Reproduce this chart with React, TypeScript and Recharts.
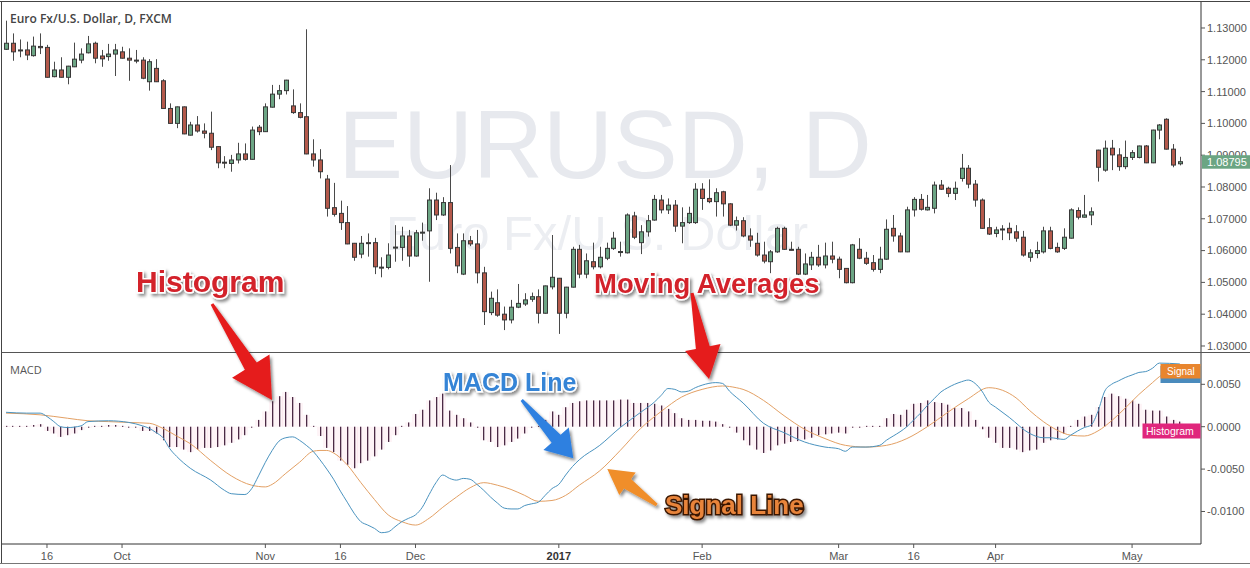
import React from 'react';
import { ComposedChart, Bar, Line, XAxis, YAxis } from 'recharts';

// ---------- DATA (EUR/USD daily, FXCM) ----------
const opens = [
  1.1233, 1.1252, 1.1230, 1.1231, 1.1213, 1.1242, 1.1239, 1.1147, 1.1168, 1.1145,
  1.1178, 1.1199, 1.1222, 1.1252, 1.1212, 1.1210, 1.1218, 1.1225, 1.1205, 1.1198,
  1.1199, 1.1131, 1.1173, 1.1134, 1.1047, 1.1000, 1.1052, 1.0963, 1.0995, 1.0976,
  1.0969, 1.0927, 1.0878, 1.0874, 1.0885, 1.0904, 1.0887, 1.0988, 1.0974, 1.1051,
  1.1092, 1.1103, 1.1055, 1.1034, 1.1021, 1.0904, 1.0885, 1.0825, 1.0735, 1.0717,
  1.0688, 1.0623, 1.0589, 1.0625, 1.0625, 1.0547, 1.0547, 1.0610, 1.0610, 1.0646,
  1.0583, 1.0657, 1.0662, 1.0759, 1.0712, 1.0751, 1.0610, 1.0526, 1.0631, 1.0621,
  1.0530, 1.0405, 1.0436, 1.0400, 1.0382, 1.0422, 1.0432, 1.0447, 1.0455, 1.0403,
  1.0486, 1.0513, 1.0403, 1.0485, 1.0604, 1.0526, 1.0565, 1.0549, 1.0576, 1.0607,
  1.0596, 1.0593, 1.0709, 1.0625, 1.0659, 1.0696, 1.0759, 1.0728, 1.0743, 1.0677,
  1.0688, 1.0688, 1.0793, 1.0764, 1.0754, 1.0785, 1.0747, 1.0680, 1.0694, 1.0646,
  1.0623, 1.0586, 1.0565, 1.0596, 1.0670, 1.0604, 1.0604, 1.0526, 1.0555, 1.0579,
  1.0555, 1.0583, 1.0573, 1.0544, 1.0499, 1.0604, 1.0576, 1.0562, 1.0541, 1.0573,
  1.0670, 1.0646, 1.0596, 1.0728, 1.0761, 1.0728, 1.0733, 1.0806, 1.0796, 1.0780,
  1.0827, 1.0859, 1.0809, 1.0759, 1.0672, 1.0654, 1.0667, 1.0670, 1.0659, 1.0642,
  1.0579, 1.0591, 1.0596, 1.0662, 1.0610, 1.0607, 1.0639, 1.0726, 1.0705, 1.0712,
  1.0916, 1.0853, 1.0922, 1.0901, 1.0864, 1.0893, 1.0893, 1.0929, 1.0876, 1.0979,
  1.1013, 1.0919, 1.0873,
];
const highs = [
  1.1323, 1.1283, 1.1264, 1.1257, 1.1273, 1.1283, 1.1247, 1.1194, 1.1208, 1.1181,
  1.1254, 1.1236, 1.1275, 1.1257, 1.1231, 1.1250, 1.1250, 1.1241, 1.1236, 1.1231,
  1.1208, 1.1202, 1.1202, 1.1139, 1.1063, 1.1053, 1.1053, 1.1005, 1.1023, 1.1000,
  1.1037, 1.0928, 1.0897, 1.0901, 1.0939, 1.0937, 1.0990, 1.0995, 1.1063, 1.1121,
  1.1121, 1.1137, 1.1107, 1.1063, 1.1296, 1.0950, 1.0919, 1.0838, 1.0813, 1.0757,
  1.0740, 1.0624, 1.0646, 1.0654, 1.0640, 1.0579, 1.0623, 1.0680, 1.0675, 1.0665,
  1.0665, 1.0688, 1.0796, 1.0782, 1.0768, 1.0869, 1.0654, 1.0654, 1.0646, 1.0665,
  1.0549, 1.0471, 1.0478, 1.0424, 1.0445, 1.0495, 1.0466, 1.0468, 1.0478, 1.0490,
  1.0649, 1.0514, 1.0486, 1.0612, 1.0618, 1.0591, 1.0625, 1.0612, 1.0625, 1.0659,
  1.0628, 1.0717, 1.0722, 1.0680, 1.0712, 1.0775, 1.0775, 1.0764, 1.0759, 1.0736,
  1.0738, 1.0812, 1.0812, 1.0824, 1.0796, 1.0788, 1.0749, 1.0707, 1.0705, 1.0670,
  1.0656, 1.0628, 1.0602, 1.0675, 1.0675, 1.0628, 1.0612, 1.0591, 1.0596, 1.0618,
  1.0625, 1.0628, 1.0581, 1.0545, 1.0621, 1.0639, 1.0596, 1.0586, 1.0612, 1.0698,
  1.0712, 1.0656, 1.0738, 1.0768, 1.0778, 1.0775, 1.0817, 1.0822, 1.0801, 1.0817,
  1.0904, 1.0869, 1.0822, 1.0764, 1.0702, 1.0675, 1.0680, 1.0688, 1.0680, 1.0662,
  1.0604, 1.0628, 1.0675, 1.0675, 1.0625, 1.0670, 1.0733, 1.0736, 1.0775, 1.0736,
  1.0917, 1.0946, 1.0948, 1.0922, 1.0946, 1.0916, 1.0930, 1.0932, 1.0980, 1.0998,
  1.1016, 1.0935, 1.0895,
];
const lows = [
  1.1231, 1.1197, 1.1208, 1.1199, 1.1210, 1.1218, 1.1144, 1.1145, 1.1144, 1.1123,
  1.1177, 1.1189, 1.1220, 1.1189, 1.1178, 1.1197, 1.1149, 1.1204, 1.1134, 1.1189,
  1.1139, 1.1103, 1.1130, 1.1046, 1.0999, 1.0985, 1.0966, 1.0962, 1.0971, 1.0953,
  1.0916, 1.0859, 1.0859, 1.0848, 1.0874, 1.0883, 1.0886, 1.0963, 1.0973, 1.1050,
  1.1076, 1.1091, 1.1030, 1.1016, 1.0903, 1.0864, 1.0827, 1.0707, 1.0707, 1.0665,
  1.0620, 1.0568, 1.0576, 1.0581, 1.0526, 1.0516, 1.0541, 1.0565, 1.0568, 1.0549,
  1.0581, 1.0631, 1.0502, 1.0696, 1.0709, 1.0591, 1.0529, 1.0523, 1.0614, 1.0497,
  1.0366, 1.0397, 1.0392, 1.0350, 1.0371, 1.0419, 1.0426, 1.0439, 1.0371, 1.0402,
  1.0478, 1.0338, 1.0387, 1.0484, 1.0513, 1.0513, 1.0541, 1.0544, 1.0570, 1.0602,
  1.0581, 1.0591, 1.0636, 1.0589, 1.0644, 1.0694, 1.0717, 1.0715, 1.0659, 1.0623,
  1.0684, 1.0684, 1.0728, 1.0749, 1.0707, 1.0707, 1.0677, 1.0663, 1.0642, 1.0612,
  1.0581, 1.0560, 1.0529, 1.0593, 1.0602, 1.0601, 1.0523, 1.0523, 1.0539, 1.0549,
  1.0544, 1.0560, 1.0513, 1.0497, 1.0497, 1.0573, 1.0555, 1.0534, 1.0529, 1.0571,
  1.0628, 1.0595, 1.0595, 1.0707, 1.0726, 1.0726, 1.0717, 1.0791, 1.0768, 1.0759,
  1.0817, 1.0796, 1.0738, 1.0669, 1.0649, 1.0642, 1.0633, 1.0633, 1.0628, 1.0581,
  1.0565, 1.0576, 1.0591, 1.0604, 1.0593, 1.0602, 1.0638, 1.0698, 1.0704, 1.0680,
  1.0817, 1.0848, 1.0853, 1.0851, 1.0856, 1.0885, 1.0890, 1.0875, 1.0875, 1.0950,
  1.0918, 1.0862, 1.0868,
];
const closes = [
  1.1252, 1.1225, 1.1231, 1.1215, 1.1243, 1.1238, 1.1145, 1.1168, 1.1145, 1.1180,
  1.1202, 1.1218, 1.1250, 1.1205, 1.1203, 1.1218, 1.1231, 1.1205, 1.1199, 1.1199,
  1.1142, 1.1194, 1.1131, 1.1047, 1.1000, 1.1052, 1.0967, 1.0995, 1.0976, 1.0969,
  1.0925, 1.0876, 1.0877, 1.0885, 1.0904, 1.0887, 1.0979, 1.0974, 1.1052, 1.1092,
  1.1103, 1.1136, 1.1034, 1.1019, 1.0904, 1.0885, 1.0848, 1.0733, 1.0714, 1.0688,
  1.0621, 1.0579, 1.0623, 1.0624, 1.0549, 1.0548, 1.0586, 1.0611, 1.0646, 1.0583,
  1.0656, 1.0658, 1.0759, 1.0712, 1.0751, 1.0607, 1.0552, 1.0631, 1.0621, 1.0530,
  1.0408, 1.0450, 1.0397, 1.0382, 1.0422, 1.0434, 1.0445, 1.0455, 1.0403, 1.0489,
  1.0516, 1.0403, 1.0485, 1.0604, 1.0526, 1.0568, 1.0549, 1.0579, 1.0607, 1.0639,
  1.0597, 1.0712, 1.0642, 1.0659, 1.0694, 1.0761, 1.0728, 1.0743, 1.0677, 1.0688,
  1.0717, 1.0793, 1.0764, 1.0754, 1.0782, 1.0747, 1.0680, 1.0694, 1.0646, 1.0633,
  1.0586, 1.0567, 1.0596, 1.0670, 1.0604, 1.0603, 1.0526, 1.0558, 1.0579, 1.0555,
  1.0583, 1.0573, 1.0541, 1.0499, 1.0618, 1.0576, 1.0560, 1.0541, 1.0573, 1.0667,
  1.0646, 1.0596, 1.0728, 1.0761, 1.0730, 1.0736, 1.0806, 1.0793, 1.0780, 1.0796,
  1.0859, 1.0809, 1.0759, 1.0670, 1.0652, 1.0665, 1.0668, 1.0656, 1.0639, 1.0586,
  1.0593, 1.0600, 1.0662, 1.0607, 1.0596, 1.0642, 1.0728, 1.0705, 1.0712, 1.0722,
  1.0862, 1.0922, 1.0901, 1.0864, 1.0893, 1.0908, 1.0929, 1.0876, 1.0979, 1.0995,
  1.0919, 1.0869, 1.08795,
];

const histogram = [
  0.0001, 0.0001, 0.0001, 0.0001, 0.0002, 0.0003, -0.0005, -0.0008, -0.0012, -0.0010,
  -0.0008, -0.0004, 0.0000, 0.0001, 0.0001, 0.0002, 0.0002, 0.0001, 0.0000, -0.0001,
  -0.0005, -0.0005, -0.0008, -0.0016, -0.0024, -0.0024, -0.0027, -0.0030, -0.0027, -0.0025,
  -0.0025, -0.0024, -0.0022, -0.0019, -0.0015, -0.0010, -0.0001, 0.0008, 0.0018, 0.0030,
  0.0036, 0.0041, 0.0035, 0.0028, 0.0014, 0.0001, -0.0011, -0.0025, -0.0030, -0.0040,
  -0.0045, -0.0049, -0.0043, -0.0040, -0.0035, -0.0027, -0.0018, -0.0010, 0.0001, 0.0005,
  0.0015, 0.0020, 0.0031, 0.0035, 0.0039, 0.0019, 0.0014, 0.0010, 0.0005, -0.0001,
  -0.0016, -0.0018, -0.0024, -0.0022, -0.0018, -0.0014, -0.0008, -0.0001, 0.0001, 0.0008,
  0.0018, 0.0014, 0.0023, 0.0028, 0.0030, 0.0031, 0.0031, 0.0031, 0.0031, 0.0031,
  0.0032, 0.0032, 0.0028, 0.0028, 0.0028, 0.0027, 0.0025, 0.0021, 0.0016, 0.0010,
  0.0008, 0.0008, 0.0007, 0.0007, 0.0006, 0.0003, -0.0001, -0.0007, -0.0016, -0.0022,
  -0.0027, -0.0031, -0.0028, -0.0022, -0.0020, -0.0018, -0.0017, -0.0015, -0.0013, -0.0010,
  -0.0009, -0.0008, -0.0007, -0.0008, 0.0000, 0.0000, 0.0001, 0.0001, 0.0001, 0.0010,
  0.0015, 0.0014, 0.0020, 0.0027, 0.0028, 0.0031, 0.0029, 0.0028, 0.0026, 0.0022,
  0.0022, 0.0018, 0.0008, -0.0003, -0.0013, -0.0019, -0.0025, -0.0025, -0.0027, -0.0030,
  -0.0028, -0.0027, -0.0019, -0.0016, -0.0015, -0.0008, 0.0001, 0.0008, 0.0012, 0.0014,
  0.0023, 0.0035, 0.0039, 0.0036, 0.0033, 0.0031, 0.0027, 0.0020, 0.0019, 0.0019,
  0.0012, 0.0008, 0.0006,
];

const macdIdx = [
  0, 3, 5, 6, 7, 8, 9, 11, 12, 15, 18, 20, 21, 22, 23, 24, 25, 27, 30, 32, 33, 35, 36, 37, 38, 39,
  40, 41, 42, 43, 44, 45, 46, 47, 48, 49, 50, 51, 52, 53, 54, 55, 56, 57, 58, 59, 60, 61, 62, 63,
  64, 65, 66, 67, 68, 69, 70, 71, 72, 73, 74, 75, 76, 77, 78, 79, 80, 81, 82, 83, 84, 87, 90, 93,
  95, 96, 97, 98, 99, 100, 101, 102, 104, 105, 106, 108, 111, 114, 117, 120, 122, 123, 124, 126,
  128, 129, 130, 131, 132, 133, 134, 135, 136, 137, 138, 139, 140, 141, 142, 143, 144, 145, 147,
  150, 152, 153, 155, 156, 158, 159, 160, 161, 162, 163, 164, 165, 166, 167, 168, 169, 172,
];
const macdVal = [
  0.0017, 0.0016, 0.0016, 0.0012, 0.0006, 0.0000, -0.0001, 0.0001, 0.0006, 0.0007, 0.0005, 0.0001,
  -0.0002, -0.0007, -0.0013, -0.0026, -0.0035, -0.0049, -0.0063, -0.0075, -0.0079, -0.0080, -0.0073,
  -0.0058, -0.0042, -0.0028,
  -0.0017, -0.0013, -0.0012, -0.0016, -0.0022, -0.0029, -0.0039, -0.0050, -0.0062, -0.0076, -0.0089,
  -0.0102, -0.0112, -0.0116, -0.0120, -0.0125, -0.0124, -0.0118, -0.0112, -0.0108, -0.0104, -0.0095,
  -0.0080, -0.0066,
  -0.0057, -0.0061, -0.0063, -0.0061, -0.0062, -0.0068, -0.0075, -0.0083, -0.0090, -0.0096, -0.0097,
  -0.0097, -0.0093, -0.0091, -0.0089, -0.0081, -0.0073, -0.0068, -0.0057, -0.0047, -0.0039, -0.0022,
  -0.0001, 0.0017,
  0.0029, 0.0037, 0.0045, 0.0044, 0.0041, 0.0042, 0.0046, 0.0049, 0.0052, 0.0051, 0.0042, 0.0028,
  0.0004, -0.0007, -0.0018, -0.0024, -0.0026, -0.0029, -0.0024, -0.0024,
  -0.0022, -0.0016, -0.0011, -0.0006, 0.0000, 0.0008, 0.0016, 0.0025, 0.0033, 0.0041, 0.0046, 0.0050,
  0.0053, 0.0055, 0.0051, 0.0042, 0.0029, 0.0023, 0.0011,
  -0.0008, -0.0013, -0.0013, -0.0015, -0.0010, -0.0001, 0.0002, 0.0018, 0.0042, 0.0050, 0.0054, 0.0058,
  0.0061, 0.0064, 0.0065, 0.0069, 0.0075, 0.0074,
];

const signalIdx = [
  0, 5, 9, 12, 15, 18, 21, 23, 25, 27, 30, 33, 36, 38, 39, 41, 43, 45, 46, 47, 48, 50, 52, 54, 56,
  58, 60, 62, 64, 66, 68, 70, 72, 74, 76, 78, 80, 82, 84, 87, 90, 93, 96, 99, 102, 105, 107, 108,
  111, 114, 117, 120, 123, 126, 129, 132, 135, 138, 141, 144, 146, 148, 150, 152, 154, 156, 158,
  160, 162, 164, 166, 168, 169, 172,
];
const signalVal = [
  0.0016, 0.0014, 0.0010, 0.0007, 0.0006, 0.0005, 0.0004, -0.0002, -0.0011, -0.0020, -0.0040, -0.0058,
  -0.0069, -0.0071, -0.0068, -0.0055, -0.0042, -0.0029, -0.0028, -0.0028, -0.0031, -0.0045, -0.0066,
  -0.0086, -0.0104,
  -0.0112, -0.0116, -0.0108, -0.0095, -0.0083, -0.0072, -0.0066, -0.0069, -0.0074, -0.0081, -0.0088,
  -0.0087, -0.0081, -0.0069, -0.0052, -0.0028, -0.0002, 0.0018, 0.0035, 0.0044, 0.0048, 0.0046, 0.0044,
  0.0031, 0.0013, -0.0003, -0.0014, -0.0022, -0.0024, -0.0022, -0.0014, 0.0000, 0.0017, 0.0033, 0.0046,
  0.0043, 0.0034, 0.0019, 0.0006, -0.0004, -0.0010, -0.0011,
  -0.0005, 0.0007, 0.0022, 0.0038, 0.0052, 0.0059, 0.0068,
];

const xTickIdx = [6, 17, 38, 49, 60, 81, 102, 122, 133, 145, 165];
const xTickLabels = ['16', 'Oct', 'Nov', '16', 'Dec', '2017', 'Feb', 'Mar', '16', 'Apr', 'May'];
const priceTicks = [1.03, 1.04, 1.05, 1.06, 1.07, 1.08, 1.09, 1.1, 1.11, 1.12, 1.13];
const macdTicks = [-0.01, -0.005, 0, 0.005];
const lastPrice = 1.08795;

// ---------- LAYOUT ----------
const W = 1250;
const TOP_H = 352;
const PLOT_RIGHT = 1201;
const AXIS_W = W - PLOT_RIGHT;
const X_DOMAIN: [number, number] = [-0.59, 175.1];
const PRICE_DOMAIN: [number, number] = [1.02811, 1.13849];
const MACD_DOMAIN: [number, number] = [-0.013833, 0.008809];
const AX_FONT = "'Liberation Sans', Arial, sans-serif";

const priceData = opens.map((o, i) => ({
  i,
  open: o,
  high: highs[i],
  low: lows[i],
  close: closes[i],
}));

const macdData: { i: number; hist: number; macd: number | null; signal: number | null }[] =
  histogram.map((h, i) => ({ i, hist: h, macd: null, signal: null }));
macdIdx.forEach((ix, k) => {
  macdData[ix].macd = macdVal[k];
});
signalIdx.forEach((ix, k) => {
  macdData[ix].signal = signalVal[k];
});

const Candle = (props: any) => {
  const { x, y, width, height, payload } = props;
  if (x == null || y == null || !payload) return null;
  const top0 = Math.min(y, y + height);
  const h0 = Math.abs(height);
  const { open, close, high, low } = payload;
  const span = high - low || 1e-9;
  const py = (p: number) => top0 + ((high - p) / span) * h0;
  const up = close >= open;
  const rx = Math.round(x + width / 2);
  const bTop = py(Math.max(open, close));
  const bBot = py(Math.min(open, close));
  const bh = Math.max(bBot - bTop, 1);
  return (
    <g>
      <line x1={rx + 0.5} x2={rx + 0.5} y1={top0} y2={top0 + h0} stroke="#4a4a4a" strokeWidth={1} />
      <rect
        x={rx - 1.5}
        y={bTop}
        width={4}
        height={bh}
        fill={up ? '#6ca584' : '#b4594b'}
        stroke="#383838"
        strokeWidth={1}
      />
    </g>
  );
};

const HistBar = (props: any) => {
  const { x, y, width, height } = props;
  if (x == null || y == null) return null;
  const rx = Math.round(x + width / 2);
  let top = Math.min(y, y + height);
  let h = Math.abs(height);
  if (h < 1) {
    h = 1;
  }
  return (
    <g>
      <rect x={rx - 3} y={top} width={7} height={h} fill="#e91e63" fillOpacity={0.05} />
      <rect x={rx} y={top} width={1.3} height={h} fill="#4b2a45" />
    </g>
  );
};

const XTick = (props: any) => {
  const { x, y, payload } = props;
  const k = xTickIdx.indexOf(payload.value);
  const label = k >= 0 ? xTickLabels[k] : '';
  const bold = label === '2017';
  return (
    <text
      x={x}
      y={y + 10}
      textAnchor="middle"
      fill={bold ? '#333' : '#555'}
      fontWeight={bold ? 700 : 400}
      fontSize={11}
      fontFamily={AX_FONT}
    >
      {label}
    </text>
  );
};

const arrowPts = (pts: number[][]) => pts.map((p) => p.join(',')).join(' ');

export default function App() {
  const priceY =
    1 + ((PRICE_DOMAIN[1] - lastPrice) / (PRICE_DOMAIN[1] - PRICE_DOMAIN[0])) * (TOP_H - 1);

  const redText = {
    fontFamily: AX_FONT,
    fontWeight: 700,
    fill: '#d3202a',
    stroke: '#ffffff',
    strokeWidth: 3,
    paintOrder: 'stroke',
    filter: 'url(#shadow)',
  } as any;

  return (
    <div style={{ position: 'absolute', left: 0, top: 0, width: W, height: 568, background: '#fff', overflow: 'hidden' }}>
      {/* watermark */}
      <svg width={W} height={568} style={{ position: 'absolute', left: 0, top: 0 }}>
        <text x={605} y={178} textAnchor="middle" fontSize={97} fill="#e7e9ee" fontFamily={AX_FONT}>
          EURUSD, D
        </text>
        <text x={597} y={250} textAnchor="middle" fontSize={49} fill="#eceef2" fontFamily={AX_FONT}>
          Euro Fx/U.S. Dollar
        </text>
      </svg>

      {/* price pane */}
      <div style={{ position: 'absolute', left: 0, top: 0 }}>
        <ComposedChart width={W} height={TOP_H} data={priceData} margin={{ top: 1, right: 0, bottom: 0, left: 2 }}>
          <XAxis dataKey="i" type="number" domain={X_DOMAIN} allowDataOverflow hide />
          <YAxis
            orientation="right"
            domain={PRICE_DOMAIN}
            allowDataOverflow
            ticks={priceTicks}
            interval={0}
            width={AXIS_W}
            tickFormatter={(v: number) => v.toFixed(5)}
            tick={{ fill: '#555', fontSize: 11, fontFamily: AX_FONT }}
            tickLine={{ stroke: '#555' }}
            tickSize={4}
            tickMargin={2}
            axisLine={{ stroke: '#333' }}
          />
          <Bar
            dataKey={(d: any) => [d.low, d.high]}
            barSize={5}
            shape={<Candle />}
            isAnimationActive={false}
          />
        </ComposedChart>
      </div>

      {/* MACD pane */}
      <div style={{ position: 'absolute', left: 0, top: TOP_H }}>
        <ComposedChart width={W} height={568 - TOP_H} data={macdData} margin={{ top: 0, right: 0, bottom: 0, left: 2 }}>
          <XAxis
            dataKey="i"
            type="number"
            domain={X_DOMAIN}
            allowDataOverflow
            ticks={xTickIdx}
            interval={0}
            height={24}
            tick={<XTick />}
            tickLine={{ stroke: '#555' }}
            tickSize={4}
            axisLine={{ stroke: '#333' }}
          />
          <YAxis
            orientation="right"
            domain={MACD_DOMAIN}
            allowDataOverflow
            ticks={macdTicks}
            interval={0}
            width={AXIS_W}
            tickFormatter={(v: number) => v.toFixed(4)}
            tick={{ fill: '#555', fontSize: 11, fontFamily: AX_FONT }}
            tickLine={{ stroke: '#555' }}
            tickSize={4}
            tickMargin={2}
            axisLine={{ stroke: '#333' }}
          />
          <Bar dataKey="hist" barSize={6} shape={<HistBar />} isAnimationActive={false} />
          <Line
            type="monotone"
            dataKey="signal"
            stroke="#e3a064"
            strokeWidth={1}
            dot={false}
            connectNulls
            isAnimationActive={false}
          />
          <Line
            type="monotone"
            dataKey="macd"
            stroke="#4a93bf"
            strokeWidth={1}
            dot={false}
            connectNulls
            isAnimationActive={false}
          />
        </ComposedChart>
      </div>

      {/* overlay: frame, labels, annotations */}
      <svg width={W} height={568} style={{ position: 'absolute', left: 0, top: 0 }}>
        <defs>
          <filter id="shadow" x="-10%" y="-30%" width="130%" height="180%">
            <feDropShadow dx="2" dy="2.5" stdDeviation="1.6" floodColor="#000" floodOpacity="0.45" />
          </filter>
        </defs>
        <line x1={0} y1={1.5} x2={W} y2={1.5} stroke="#444" />
        <line x1={1.5} y1={1} x2={1.5} y2={564} stroke="#444" />
        <line x1={0} y1={563.5} x2={W} y2={563.5} stroke="#777" />
        <line x1={1.5} y1={352.5} x2={W} y2={352.5} stroke="#555" />

        <text x={10} y={22.5} fontSize={12} fontWeight={600} fill="#444" fontFamily="'Open Sans', sans-serif">
          Euro Fx/U.S. Dollar, D, FXCM
        </text>
        <text x={10} y={373.5} fontSize={11} fill="#555" fontFamily="'Open Sans', sans-serif">
          MACD
        </text>

        {/* last price label */}
        <rect x={1202} y={priceY - 6.5} width={48} height={13.5} fill="#6ba583" />
        <text x={1207} y={priceY + 4} fontSize={11} fill="#fff" fontFamily={AX_FONT}>
          {lastPrice.toFixed(5)}
        </text>

        {/* MACD pane labels */}
        <rect x={1160.5} y={366} width={40} height={17} fill="#4a8bbd" />
        <rect x={1160.5} y={364} width={40} height={14.5} fill="#e8852e" />
        <text x={1167} y={375} fontSize={10} fill="#fff" fontFamily={AX_FONT}>
          Signal
        </text>
        <rect x={1142.5} y={423.5} width={58} height={15} fill="#e0267c" />
        <text x={1146} y={435} fontSize={10.5} fill="#fff" fontFamily={AX_FONT}>
          Histogram
        </text>

        {/* annotations */}
        <text x={136} y={292} fontSize={30} {...redText}>
          Histogram
        </text>
        <polygon
          points={arrowPts([
            [210.7, 304.8], [244.9, 369.8], [232.1, 377.8], [272, 400], [269.5, 354.4], [256.7, 362.4], [213.3, 303.2],
          ])}
          fill="#e51b1b"
          filter="url(#shadow)"
        />

        <text x={594} y={292.5} fontSize={27.5} {...redText}>
          Moving Averages
        </text>
        <polygon
          points={arrowPts([
            [690.5, 293.3], [695.9, 349.0], [685.1, 351.1], [709, 379], [720.5, 344.1], [709.7, 346.2], [693.5, 292.7],
          ])}
          fill="#e51b1b"
          filter="url(#shadow)"
        />

        <text
          x={443}
          y={391}
          fontSize={25}
          fontFamily={AX_FONT}
          fontWeight={700}
          fill="#3484d6"
          stroke="#ffffff"
          strokeWidth={3}
          style={{ paintOrder: 'stroke' } as any}
          filter="url(#shadow)"
        >
          MACD Line
        </text>
        <polygon
          points={arrowPts([
            [520.6, 401.0], [551.6, 442.8], [543.4, 450.1], [573.3, 458.3], [568.8, 427.5], [560.6, 434.8], [522.8, 399.0],
          ])}
          fill="#2f80e0"
          filter="url(#shadow)"
        />

        <polygon
          points={arrowPts([
            [657.6, 503.8], [631.0, 478.9], [635.7, 472.4], [607.3, 469], [619.3, 495.0], [624.0, 488.5], [655.8, 506.2],
          ])}
          fill="#f08e2a"
          filter="url(#shadow)"
        />
        <text
          x={665}
          y={514}
          fontSize={26}
          fontFamily={AX_FONT}
          fontWeight={700}
          fill="#e8843a"
          stroke="#3a1806"
          strokeWidth={3}
          style={{ paintOrder: 'stroke' } as any}
          filter="url(#shadow)"
        >
          Signal Line
        </text>
      </svg>
    </div>
  );
}
